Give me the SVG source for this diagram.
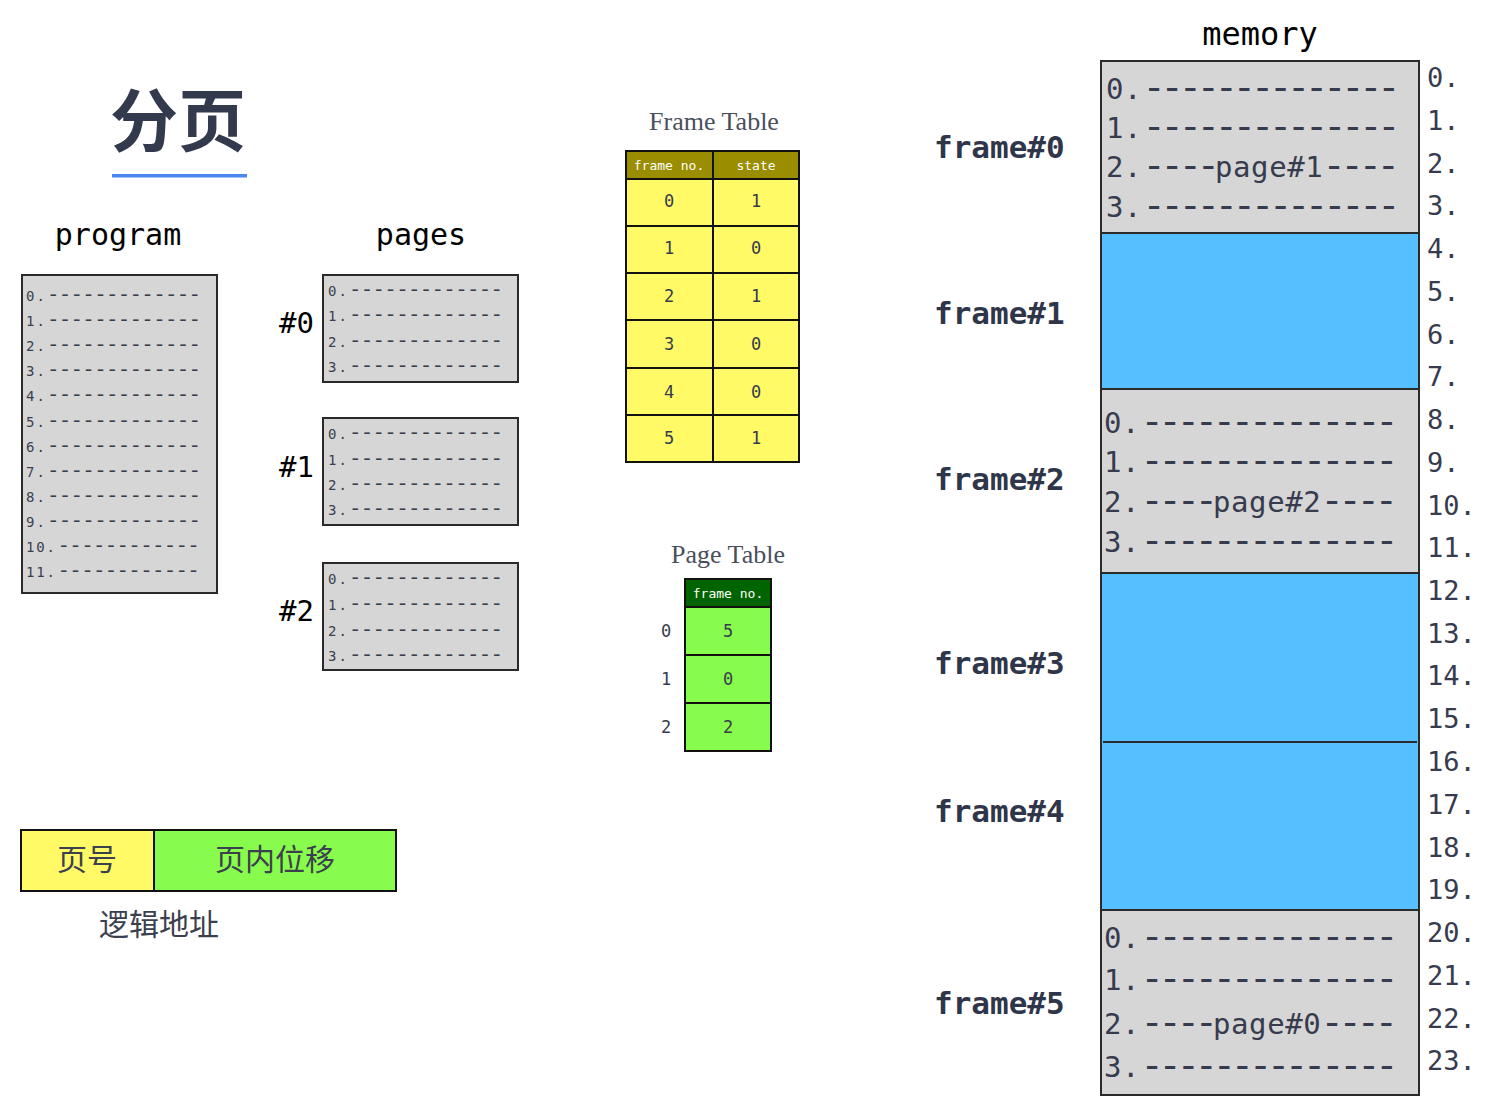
<svg xmlns="http://www.w3.org/2000/svg" width="1512" height="1112" viewBox="0 0 1512 1112">
<style>
.bg{fill:#ffffff}
.box{fill:#d6d6d6;stroke:#2a2a2a;stroke-width:2}
.blue{fill:#55bfff;stroke:#2a2a2a;stroke-width:2}
.sm{font-family:"DejaVu Sans Mono",monospace;font-size:14px;letter-spacing:2px;fill:#3a3f4e}
.sm3{font-family:"DejaVu Sans Mono",monospace;font-size:14px;letter-spacing:1.8px;fill:#3a3f4e}
.dsm{font-family:"Liberation Mono",monospace;font-size:20px;letter-spacing:-0.2px;fill:#3a3f4e}
.mem{font-family:"DejaVu Sans Mono",monospace;font-size:29px;letter-spacing:0.6px;fill:#363b4e}
.dmem{font-family:"Liberation Mono",monospace;font-size:37px;letter-spacing:-4.14px;fill:#363b4e}
.addr{font-family:"DejaVu Sans Mono",monospace;font-size:27px;fill:#363b4e}
.head{font-family:"DejaVu Sans Mono",monospace;font-size:30px;fill:#000}
.pno{font-family:"DejaVu Sans Mono",monospace;font-size:29px;fill:#000}
.frm{font-family:"DejaVu Sans Mono",monospace;font-size:31px;font-weight:bold;fill:#30364a}
.ttl{font-family:"Liberation Serif","DejaVu Serif",serif;font-size:26px;fill:#4a4f5c;text-anchor:middle}
.th{font-family:"DejaVu Sans Mono",monospace;font-size:13px;fill:#ffffff;text-anchor:middle}
.td{font-family:"DejaVu Sans Mono",monospace;font-size:17px;fill:#363b4e;text-anchor:middle}
.ycell{fill:#fffa66;stroke:#111;stroke-width:2}
.gcell{fill:#88fc4c;stroke:#111;stroke-width:2}
.cjk{font-family:"Noto Sans CJK SC","Noto Sans CJK JP",sans-serif;font-size:30px;fill:#3c3f4e;text-anchor:middle}
</style>
<rect class="bg" x="0" y="0" width="1512" height="1112"/>

<g id="title">
<text x="178" y="146" text-anchor="middle" style="font-family:'Noto Sans CJK SC','Noto Sans CJK JP',sans-serif;font-size:68px;font-weight:bold;fill:#333a4d">分页</text>
<rect x="112" y="174" width="135" height="3.5" fill="#4a86f0"/>
</g>

<g id="program">
<text class="head" x="118" y="245" text-anchor="middle">program</text>
<rect class="box" x="22" y="275" width="195" height="318"/>
<text class="sm" x="26" y="301">0.<tspan class="dsm" x="47.2">-------------</tspan></text>
<text class="sm" x="26" y="326">1.<tspan class="dsm" x="47.2">-------------</tspan></text>
<text class="sm" x="26" y="351">2.<tspan class="dsm" x="47.2">-------------</tspan></text>
<text class="sm" x="26" y="376">3.<tspan class="dsm" x="47.2">-------------</tspan></text>
<text class="sm" x="26" y="401">4.<tspan class="dsm" x="47.2">-------------</tspan></text>
<text class="sm" x="26" y="427">5.<tspan class="dsm" x="47.2">-------------</tspan></text>
<text class="sm" x="26" y="452">6.<tspan class="dsm" x="47.2">-------------</tspan></text>
<text class="sm" x="26" y="477">7.<tspan class="dsm" x="47.2">-------------</tspan></text>
<text class="sm" x="26" y="502">8.<tspan class="dsm" x="47.2">-------------</tspan></text>
<text class="sm" x="26" y="527">9.<tspan class="dsm" x="47.2">-------------</tspan></text>
<text class="sm3" x="26" y="552">10.<tspan class="dsm" x="57.8">------------</tspan></text>
<text class="sm3" x="26" y="577">11.<tspan class="dsm" x="57.8">------------</tspan></text>
</g>

<g id="pages">
<text class="head" x="421" y="245" text-anchor="middle">pages</text>
</g>

<g id="page0">
<text class="pno" x="279" y="333">#0</text>
<rect class="box" x="323" y="275" width="195" height="107"/>
<text class="sm" x="328" y="296">0.<tspan class="dsm" x="349.2">-------------</tspan></text>
<text class="sm" x="328" y="321">1.<tspan class="dsm" x="349.2">-------------</tspan></text>
<text class="sm" x="328" y="347">2.<tspan class="dsm" x="349.2">-------------</tspan></text>
<text class="sm" x="328" y="372">3.<tspan class="dsm" x="349.2">-------------</tspan></text>
</g>

<g id="page1">
<text class="pno" x="279" y="477">#1</text>
<rect class="box" x="323" y="418" width="195" height="107"/>
<text class="sm" x="328" y="439">0.<tspan class="dsm" x="349.2">-------------</tspan></text>
<text class="sm" x="328" y="465">1.<tspan class="dsm" x="349.2">-------------</tspan></text>
<text class="sm" x="328" y="490">2.<tspan class="dsm" x="349.2">-------------</tspan></text>
<text class="sm" x="328" y="515">3.<tspan class="dsm" x="349.2">-------------</tspan></text>
</g>

<g id="page2">
<text class="pno" x="279" y="621">#2</text>
<rect class="box" x="323" y="563" width="195" height="107"/>
<text class="sm" x="328" y="584">0.<tspan class="dsm" x="349.2">-------------</tspan></text>
<text class="sm" x="328" y="610">1.<tspan class="dsm" x="349.2">-------------</tspan></text>
<text class="sm" x="328" y="636">2.<tspan class="dsm" x="349.2">-------------</tspan></text>
<text class="sm" x="328" y="661">3.<tspan class="dsm" x="349.2">-------------</tspan></text>
</g>

<g id="frame-table">
<text class="ttl" x="714" y="130">Frame Table</text>
<rect x="626" y="151" width="87" height="28" fill="#9a8d00" stroke="#111" stroke-width="2"/>
<rect x="713" y="151" width="86" height="28" fill="#9a8d00" stroke="#111" stroke-width="2"/>
<text class="th" x="669" y="170">frame no.</text>
<text class="th" x="756" y="170">state</text>
<rect class="ycell" x="626" y="179" width="87" height="47"/><rect class="ycell" x="713" y="179" width="86" height="47"/>
<rect class="ycell" x="626" y="226" width="87" height="47"/><rect class="ycell" x="713" y="226" width="86" height="47"/>
<rect class="ycell" x="626" y="273" width="87" height="47"/><rect class="ycell" x="713" y="273" width="86" height="47"/>
<rect class="ycell" x="626" y="320" width="87" height="48"/><rect class="ycell" x="713" y="320" width="86" height="48"/>
<rect class="ycell" x="626" y="368" width="87" height="47"/><rect class="ycell" x="713" y="368" width="86" height="47"/>
<rect class="ycell" x="626" y="415" width="87" height="47"/><rect class="ycell" x="713" y="415" width="86" height="47"/>
<text class="td" x="669" y="207">0</text><text class="td" x="756" y="207">1</text>
<text class="td" x="669" y="254">1</text><text class="td" x="756" y="254">0</text>
<text class="td" x="669" y="302">2</text><text class="td" x="756" y="302">1</text>
<text class="td" x="669" y="350">3</text><text class="td" x="756" y="350">0</text>
<text class="td" x="669" y="398">4</text><text class="td" x="756" y="398">0</text>
<text class="td" x="669" y="444">5</text><text class="td" x="756" y="444">1</text>
</g>

<g id="page-table">
<text class="ttl" x="728" y="563">Page Table</text>
<rect x="685" y="579" width="86" height="28" fill="#006400" stroke="#111" stroke-width="2"/>
<text class="th" x="728" y="598">frame no.</text>
<rect class="gcell" x="685" y="607" width="86" height="48"/>
<rect class="gcell" x="685" y="655" width="86" height="48"/>
<rect class="gcell" x="685" y="703" width="86" height="48"/>
<text class="td" x="728" y="637">5</text>
<text class="td" x="728" y="685">0</text>
<text class="td" x="728" y="733">2</text>
<text class="td" x="666" y="637">0</text>
<text class="td" x="666" y="685">1</text>
<text class="td" x="666" y="733">2</text>
</g>

<g id="logical-address">
<rect x="21" y="830" width="133" height="61" fill="#fffa66" stroke="#111" stroke-width="2"/>
<rect x="154" y="830" width="242" height="61" fill="#88fc4c" stroke="#111" stroke-width="2"/>
<text class="cjk" x="87" y="870">页号</text>
<text class="cjk" x="275" y="870">页内位移</text>
<text class="cjk" x="159" y="935">逻辑地址</text>
</g>

<g id="frame-labels">
<text class="frm" x="934" y="158">frame#0</text>
<text class="frm" x="934" y="324">frame#1</text>
<text class="frm" x="934" y="490">frame#2</text>
<text class="frm" x="934" y="674">frame#3</text>
<text class="frm" x="934" y="822">frame#4</text>
<text class="frm" x="934" y="1014">frame#5</text>
</g>

<g id="memory">
<text class="head" x="1260" y="45" text-anchor="middle" style="font-size:32px">memory</text>
<rect class="box" x="1101" y="61" width="318" height="1034"/>
<rect class="box" x="1101" y="61" width="318" height="172"/>
<rect class="blue" x="1101" y="233" width="318" height="156"/>
<rect class="box" x="1101" y="389" width="318" height="184"/>
<rect class="blue" x="1101" y="573" width="318" height="337"/>
<line x1="1103" y1="742" x2="1417" y2="742" stroke="#2a2a2a" stroke-width="2"/>
<rect class="box" x="1101" y="910" width="318" height="185"/>
</g>

<g id="frame0-content">
<text class="mem" x="1106" y="99">0.<tspan class="dmem" x="1143">--------------</tspan></text>
<text class="mem" x="1106" y="138">1.<tspan class="dmem" x="1143">--------------</tspan></text>
<text class="mem" x="1106" y="177">2.<tspan class="dmem" x="1143">----</tspan><tspan x="1215">page#1</tspan><tspan class="dmem" x="1323">----</tspan></text>
<text class="mem" x="1106" y="217">3.<tspan class="dmem" x="1143">--------------</tspan></text>
</g>
<g id="frame2-content">
<text class="mem" x="1104" y="433">0.<tspan class="dmem" x="1141">--------------</tspan></text>
<text class="mem" x="1104" y="472">1.<tspan class="dmem" x="1141">--------------</tspan></text>
<text class="mem" x="1104" y="512">2.<tspan class="dmem" x="1141">----</tspan><tspan x="1213">page#2</tspan><tspan class="dmem" x="1321">----</tspan></text>
<text class="mem" x="1104" y="552">3.<tspan class="dmem" x="1141">--------------</tspan></text>
</g>
<g id="frame5-content">
<text class="mem" x="1104" y="948">0.<tspan class="dmem" x="1141">--------------</tspan></text>
<text class="mem" x="1104" y="990">1.<tspan class="dmem" x="1141">--------------</tspan></text>
<text class="mem" x="1104" y="1034">2.<tspan class="dmem" x="1141">----</tspan><tspan x="1213">page#0</tspan><tspan class="dmem" x="1321">----</tspan></text>
<text class="mem" x="1104" y="1077">3.<tspan class="dmem" x="1141">--------------</tspan></text>
</g>

<g id="addresses">
<text class="addr" x="1427" y="87">0.</text>
<text class="addr" x="1427" y="130">1.</text>
<text class="addr" x="1427" y="173">2.</text>
<text class="addr" x="1427" y="215">3.</text>
<text class="addr" x="1427" y="258">4.</text>
<text class="addr" x="1427" y="301">5.</text>
<text class="addr" x="1427" y="344">6.</text>
<text class="addr" x="1427" y="386">7.</text>
<text class="addr" x="1427" y="429">8.</text>
<text class="addr" x="1427" y="472">9.</text>
<text class="addr" x="1427" y="515">10.</text>
<text class="addr" x="1427" y="557">11.</text>
<text class="addr" x="1427" y="600">12.</text>
<text class="addr" x="1427" y="643">13.</text>
<text class="addr" x="1427" y="685">14.</text>
<text class="addr" x="1427" y="728">15.</text>
<text class="addr" x="1427" y="771">16.</text>
<text class="addr" x="1427" y="814">17.</text>
<text class="addr" x="1427" y="857">18.</text>
<text class="addr" x="1427" y="899">19.</text>
<text class="addr" x="1427" y="942">20.</text>
<text class="addr" x="1427" y="985">21.</text>
<text class="addr" x="1427" y="1028">22.</text>
<text class="addr" x="1427" y="1070">23.</text>
</g>

<g id="connectors"></g>
</svg>
